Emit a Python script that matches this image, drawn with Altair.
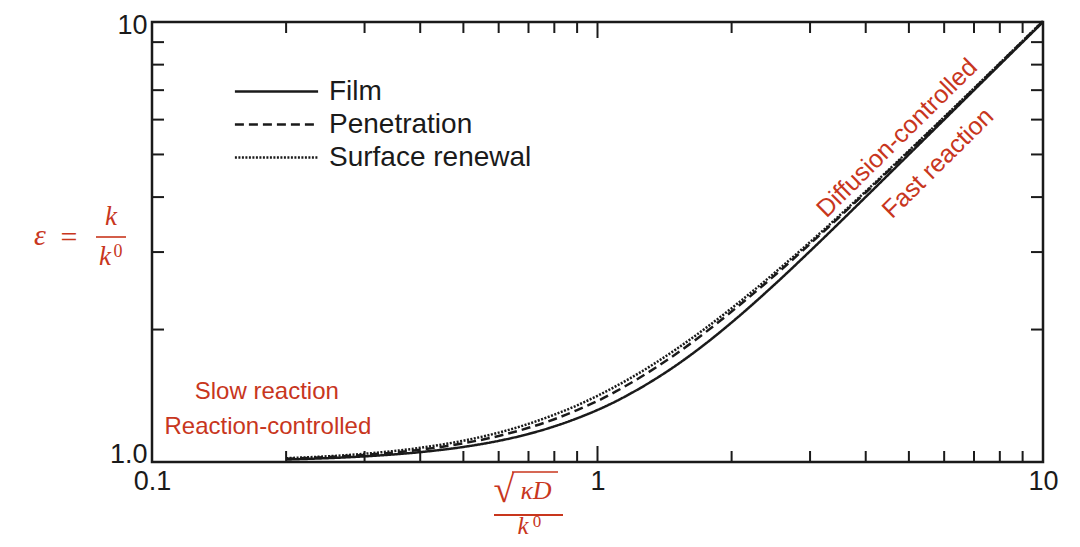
import altair as alt
import pandas as pd

# Values
ha = [0.2, 0.3, 0.4, 0.5, 0.6, 0.7, 0.8, 0.9, 1.0, 1.1, 1.2, 1.5, 1.75, 2.0, 2.5, 3.0, 4.0, 5.0, 6.0, 7.0, 8.0, 10.0]
film = [1.013, 1.030, 1.053, 1.082, 1.117, 1.158, 1.205, 1.257, 1.313, 1.374, 1.440, 1.657, 1.859, 2.075, 2.534, 3.015, 4.003, 5.000, 6.000, 7.000, 8.000, 10.000]
penetration = [1.017, 1.038, 1.066, 1.103, 1.146, 1.196, 1.251, 1.312, 1.376, 1.447, 1.521, 1.760, 1.974, 2.197, 2.657, 3.131, 4.098, 5.079, 6.065, 7.056, 8.049, 10.039]
surface = [1.020, 1.044, 1.077, 1.118, 1.166, 1.221, 1.281, 1.345, 1.414, 1.487, 1.562, 1.803, 2.016, 2.236, 2.693, 3.162, 4.123, 5.099, 6.083, 7.071, 8.062, 10.050]
series_names = ["Film", "Penetration", "Surface renewal"]

x_minor = [0.2, 0.3, 0.4, 0.5, 0.6, 0.7, 0.8, 0.9, 2, 3, 4, 5, 6, 7, 8, 9]
x_major = [1]
y_minor = [2, 3, 4, 5, 6, 7, 8, 9]

flat_text = ["Slow reaction", "Reaction-controlled"]
flat_x = [0.181, 0.182]
flat_y = [1.443, 1.201]
rot_text = ["Diffusion-controlled", "Fast reaction"]
rot_x = [4.70, 5.81]
rot_y = [5.45, 4.78]

RED = "#c8361d"
INK = "#1a1a1a"
SANS = "Liberation Sans"
SERIF = "Liberation Serif"
W, H = 891, 440

rows = []
for name, vals in zip(series_names, [film, penetration, surface]):
    for h, e in zip(ha, vals):
        rows.append({"ha": h, "eps": e, "series": name})
df = pd.DataFrame(rows)

xscale = alt.Scale(type="log", domain=[0.1, 10], nice=False)
yscale = alt.Scale(type="log", domain=[1, 10], nice=False)

xaxis = alt.Axis(values=[0.1, 1, 10],
                 labelExpr="datum.value < 0.5 ? '0.1' : (datum.value < 5 ? '1' : '10')",
                 ticks=False, domain=False, grid=False, title="",
                 labelFont=SANS, labelFontSize=27, labelColor=INK,
                 labelPadding=6, labelFlush=False, labelOverlap=False)
yaxis = alt.Axis(values=[1, 10],
                 labelExpr="datum.value < 5 ? '1.0' : '10'",
                 ticks=False, domain=False, grid=False, title="",
                 labelFont=SANS, labelFontSize=27, labelColor=INK,
                 labelPadding=5, labelFlush=False, labelOverlap=False,
                 labelOffset={"condition": {"test": "datum.value < 5", "value": -8}, "value": 3})

lines = alt.Chart(df).mark_line(strokeWidth=2.5, color=INK, interpolate="monotone").encode(
    x=alt.X("ha:Q", scale=xscale, axis=xaxis),
    y=alt.Y("eps:Q", scale=yscale, axis=yaxis),
    strokeDash=alt.StrokeDash(
        "series:N",
        scale=alt.Scale(domain=series_names, range=[[1, 0], [9, 5], [2, 1.5]]),
        sort=series_names,
        legend=alt.Legend(title=None, orient="none", legendX=107, legendY=52,
                          symbolType="M-2.6,0H2.6", symbolSize=1024, symbolStrokeWidth=2.5,
                          symbolStrokeColor=INK, labelFont=SANS, labelFontSize=28,
                          labelColor=INK, labelOffset=35, rowPadding=1, labelLimit=400),
    ),
)

xminor_df = pd.DataFrame({"tx": x_minor})
xmajor_df = pd.DataFrame({"tx": x_major})
yminor_df = pd.DataFrame({"ty": y_minor})

def xticks(d, length, top):
    if top:
        return alt.Chart(d).mark_rule(strokeWidth=2, color=INK).encode(
            x=alt.X("tx:Q", scale=xscale, axis=xaxis), y=alt.value(0), y2=alt.value(length))
    return alt.Chart(d).mark_rule(strokeWidth=2, color=INK).encode(
        x=alt.X("tx:Q", scale=xscale, axis=xaxis), y=alt.value(H), y2=alt.value(H - length))

def yticks(d, length, right):
    if right:
        return alt.Chart(d).mark_rule(strokeWidth=2, color=INK).encode(
            y=alt.Y("ty:Q", scale=yscale, axis=yaxis), x=alt.value(W), x2=alt.value(W - length))
    return alt.Chart(d).mark_rule(strokeWidth=2, color=INK).encode(
        y=alt.Y("ty:Q", scale=yscale, axis=yaxis), x=alt.value(0), x2=alt.value(length))

ticks = [xticks(xminor_df, 11, False), xticks(xminor_df, 11, True),
         xticks(xmajor_df, 16, False), xticks(xmajor_df, 16, True),
         yticks(yminor_df, 12, False), yticks(yminor_df, 12, True)]

flat_df = pd.DataFrame({"ax": flat_x, "ay": flat_y, "t": flat_text})
rot_df = pd.DataFrame({"ax": rot_x, "ay": rot_y, "t": rot_text})

flat = alt.Chart(flat_df).mark_text(font=SANS, fontSize=24, color=RED, align="center", baseline="middle").encode(
    x=alt.X("ax:Q", scale=xscale, axis=xaxis), y=alt.Y("ay:Q", scale=yscale, axis=yaxis), text="t:N")
rot = alt.Chart(rot_df).mark_text(font=SANS, fontSize=25, color=RED, align="center", baseline="middle",
                                  angle=315.4).encode(
    x=alt.X("ax:Q", scale=xscale, axis=xaxis), y=alt.Y("ay:Q", scale=yscale, axis=yaxis), text="t:N")

one = alt.Data(values=[{"a": 1}])

def label(text, x, y, size, italic=True, align="center", baseline="alphabetic"):
    kw = dict(font=SERIF, fontSize=size, color=RED, align=align, baseline=baseline)
    if italic:
        kw["fontStyle"] = "italic"
    return alt.Chart(one).mark_text(**kw).encode(x=alt.value(x), y=alt.value(y), text=alt.value(text))

def bar(x1, x2, y, w=1.6):
    return alt.Chart(one).mark_rule(color=RED, strokeWidth=w).encode(
        x=alt.value(x1), x2=alt.value(x2), y=alt.value(y))

ytitle = [
    label("ε", -112, 223, 30),
    label("=", -83, 216, 30, italic=False, baseline="middle"),
    label("k", -41, 203, 27),
    bar(-56, -26, 215),
    label("k", -47, 243, 27),
    label("0", -34, 235, 18, italic=False),
]
xtitle = [
    label("√", 352, 480, 38, italic=False),
    bar(360, 406, 450, 1.6),
    label("κD", 384, 477, 26),
    bar(342, 411, 493, 1.8),
    label("k", 371, 512, 25),
    label("0", 385, 505, 17, italic=False),
]

chart = alt.layer(lines, *ticks, flat, rot, *ytitle, *xtitle).properties(
    width=W, height=H,
    background="white",
    autosize=alt.AutoSizeParams(type="none"),
    padding={"left": 144, "top": 14, "right": 20, "bottom": 77},
).configure_view(stroke=INK, strokeWidth=2.5)

chart.save("out.html", embed_options={"renderer": "svg", "actions": False})
